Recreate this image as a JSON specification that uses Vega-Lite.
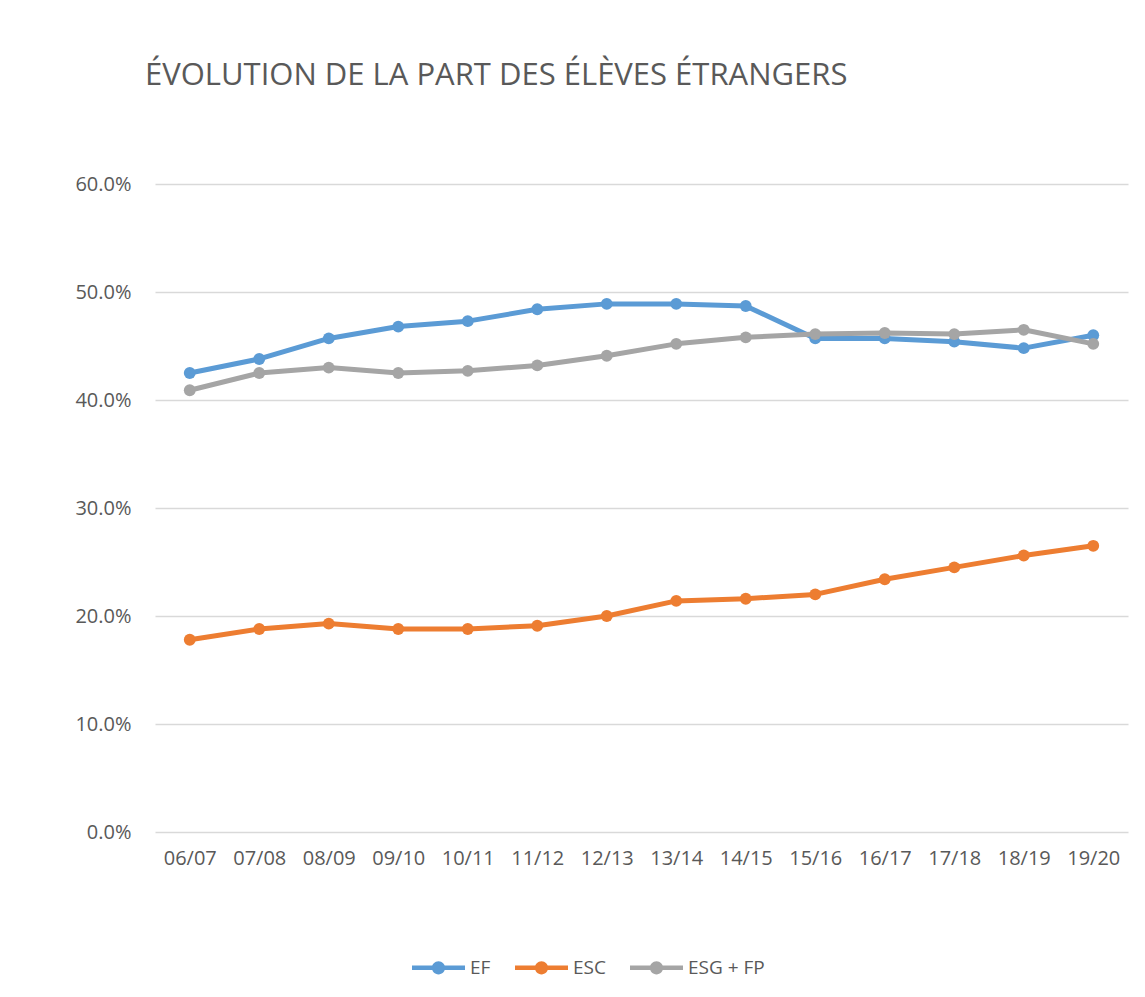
{
  "$schema": "https://vega.github.io/schema/vega-lite/v6.json",
  "autosize": {"type": "none"},
  "width": 973,
  "height": 648,
  "padding": {"left": 155, "top": 184, "right": 17, "bottom": 165},
  "background": "white",
  "title": {
    "text": "ÉVOLUTION DE LA PART DES ÉLÈVES ÉTRANGERS",
    "anchor": "start",
    "frame": "group",
    "font": "Open Sans",
    "fontSize": 31,
    "fontWeight": "normal",
    "color": "#595959",
    "baseline": "alphabetic",
    "dx": -10,
    "offset": 58
  },
  "data": {
    "values": [
      {"annee": "06/07", "serie": "EF", "part": 0.425},
      {"annee": "07/08", "serie": "EF", "part": 0.438},
      {"annee": "08/09", "serie": "EF", "part": 0.457},
      {"annee": "09/10", "serie": "EF", "part": 0.468},
      {"annee": "10/11", "serie": "EF", "part": 0.473},
      {"annee": "11/12", "serie": "EF", "part": 0.484},
      {"annee": "12/13", "serie": "EF", "part": 0.489},
      {"annee": "13/14", "serie": "EF", "part": 0.489},
      {"annee": "14/15", "serie": "EF", "part": 0.487},
      {"annee": "15/16", "serie": "EF", "part": 0.457},
      {"annee": "16/17", "serie": "EF", "part": 0.457},
      {"annee": "17/18", "serie": "EF", "part": 0.454},
      {"annee": "18/19", "serie": "EF", "part": 0.448},
      {"annee": "19/20", "serie": "EF", "part": 0.460},
      {"annee": "06/07", "serie": "ESC", "part": 0.178},
      {"annee": "07/08", "serie": "ESC", "part": 0.188},
      {"annee": "08/09", "serie": "ESC", "part": 0.193},
      {"annee": "09/10", "serie": "ESC", "part": 0.188},
      {"annee": "10/11", "serie": "ESC", "part": 0.188},
      {"annee": "11/12", "serie": "ESC", "part": 0.191},
      {"annee": "12/13", "serie": "ESC", "part": 0.200},
      {"annee": "13/14", "serie": "ESC", "part": 0.214},
      {"annee": "14/15", "serie": "ESC", "part": 0.216},
      {"annee": "15/16", "serie": "ESC", "part": 0.220},
      {"annee": "16/17", "serie": "ESC", "part": 0.234},
      {"annee": "17/18", "serie": "ESC", "part": 0.245},
      {"annee": "18/19", "serie": "ESC", "part": 0.256},
      {"annee": "19/20", "serie": "ESC", "part": 0.265},
      {"annee": "06/07", "serie": "ESG + FP", "part": 0.409},
      {"annee": "07/08", "serie": "ESG + FP", "part": 0.425},
      {"annee": "08/09", "serie": "ESG + FP", "part": 0.430},
      {"annee": "09/10", "serie": "ESG + FP", "part": 0.425},
      {"annee": "10/11", "serie": "ESG + FP", "part": 0.427},
      {"annee": "11/12", "serie": "ESG + FP", "part": 0.432},
      {"annee": "12/13", "serie": "ESG + FP", "part": 0.441},
      {"annee": "13/14", "serie": "ESG + FP", "part": 0.452},
      {"annee": "14/15", "serie": "ESG + FP", "part": 0.458},
      {"annee": "15/16", "serie": "ESG + FP", "part": 0.461},
      {"annee": "16/17", "serie": "ESG + FP", "part": 0.462},
      {"annee": "17/18", "serie": "ESG + FP", "part": 0.461},
      {"annee": "18/19", "serie": "ESG + FP", "part": 0.465},
      {"annee": "19/20", "serie": "ESG + FP", "part": 0.452}
    ]
  },
  "encoding": {
    "x": {
      "field": "annee",
      "type": "ordinal",
      "sort": null,
      "scale": {"type": "point", "padding": 0.5},
      "axis": {
        "title": null,
        "domain": false,
        "ticks": false,
        "grid": false,
        "labelAngle": 0,
        "labelFont": "Open Sans",
        "labelFontSize": 20,
        "labelColor": "#595959",
        "labelPadding": 16
      }
    },
    "y": {
      "field": "part",
      "type": "quantitative",
      "scale": {"domain": [0, 0.6], "nice": false, "zero": true},
      "axis": {
        "title": null,
        "format": ".1%",
        "values": [0, 0.1, 0.2, 0.3, 0.4, 0.5, 0.6],
        "domain": false,
        "ticks": false,
        "grid": true,
        "gridColor": "#d9d9d9",
        "gridWidth": 1.5,
        "labelFont": "Open Sans",
        "labelFontSize": 20,
        "labelColor": "#595959",
        "labelPadding": 24
      }
    },
    "color": {
      "field": "serie",
      "type": "nominal",
      "scale": {
        "domain": ["EF", "ESC", "ESG + FP"],
        "range": ["#5B9BD5", "#ED7D31", "#A5A5A5"]
      },
      "legend": {
        "title": null,
        "orient": "none",
        "direction": "horizontal",
        "legendX": 257,
        "legendY": 757,
        "symbolType": "M-1,-0.085L1,-0.085L1,0.085L-1,0.085Z M-0.25,0A0.25,0.25 0 1,1 0.25,0A0.25,0.25 0 1,1 -0.25,0Z",
        "symbolSize": 2809,
        "symbolStrokeWidth": 0,
        "symbolOpacity": 1,
        "labelFont": "Open Sans",
        "labelFontSize": 19,
        "labelColor": "#595959",
        "labelOffset": 5,
        "columnPadding": 24
      }
    }
  },
  "layer": [
    {
      "mark": {"type": "line", "strokeWidth": 5, "strokeJoin": "round", "strokeCap": "round"}
    },
    {
      "mark": {"type": "point", "filled": true, "opacity": 1, "size": 140, "shape": "circle"}
    }
  ],
  "config": {
    "view": {"stroke": null},
    "legend": {"symbolFillColor": null}
  }
}
